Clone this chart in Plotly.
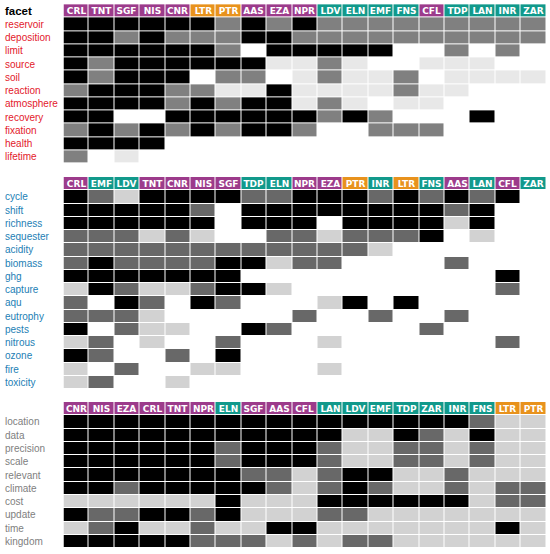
import plotly.graph_objects as go

# column code -> header colour group (0 purple, 1 teal, 2 orange)
col_group = {'CRL': 0, 'TNT': 0, 'SGF': 0, 'NIS': 0, 'CNR': 0, 'AAS': 0, 'EZA': 0, 'NPR': 0, 'CFL': 0,
             'LDV': 1, 'ELN': 1, 'EMF': 1, 'FNS': 1, 'TDP': 1, 'LAN': 1, 'INR': 1, 'ZAR': 1,
             'LTR': 2, 'PTR': 2}

# panel 1
p1_cols = ['CRL', 'TNT', 'SGF', 'NIS', 'CNR', 'LTR', 'PTR', 'AAS', 'EZA', 'NPR',
           'LDV', 'ELN', 'EMF', 'FNS', 'CFL', 'TDP', 'LAN', 'INR', 'ZAR']
p1_rows = ['reservoir', 'deposition', 'limit', 'source', 'soil', 'reaction',
           'atmosphere', 'recovery', 'fixation', 'health', 'lifetime']
p1_z = [
    [3, 3, 3, 3, 3, 3, 2, 3, 2, 3, 2, 2, 2, 2, 2, 2, 2, 2, 2],
    [3, 3, 2, 3, 2, 2, 2, 3, 3, 2, 2, 2, 2, 2, 2, 2, 2, 2, 2],
    [3, 3, 3, 3, 3, 3, 2, 0, 3, 3, 3, 3, 3, 0, 0, 2, 0, 2, 0],
    [3, 2, 3, 3, 3, 3, 3, 3, 1, 1, 2, 1, 0, 0, 1, 1, 1, 0, 0],
    [3, 2, 3, 3, 3, 0, 2, 2, 0, 1, 2, 1, 1, 2, 0, 1, 1, 1, 1],
    [2, 3, 3, 3, 2, 2, 1, 1, 3, 1, 1, 1, 1, 2, 1, 1, 0, 0, 0],
    [3, 3, 3, 3, 2, 3, 2, 3, 3, 1, 2, 1, 0, 1, 1, 0, 0, 0, 0],
    [3, 3, 0, 0, 3, 3, 3, 3, 3, 3, 2, 3, 2, 0, 0, 0, 3, 0, 0],
    [2, 3, 2, 3, 2, 3, 2, 3, 3, 2, 0, 0, 2, 2, 2, 0, 0, 0, 0],
    [3, 3, 3, 3, 0, 0, 0, 0, 0, 0, 0, 0, 0, 0, 0, 0, 0, 0, 0],
    [2, 0, 1, 0, 0, 0, 0, 0, 0, 0, 0, 0, 0, 0, 0, 0, 0, 0, 0],
]

# panel 2
p2_cols = ['CRL', 'EMF', 'LDV', 'TNT', 'CNR', 'NIS', 'SGF', 'TDP', 'ELN', 'NPR',
           'EZA', 'PTR', 'INR', 'LTR', 'FNS', 'AAS', 'LAN', 'CFL', 'ZAR']
p2_rows = ['cycle', 'shift', 'richness', 'sequester', 'acidity', 'biomass', 'ghg', 'capture',
           'aqu', 'eutrophy', 'pests', 'nitrous', 'ozone', 'fire', 'toxicity']
p2_z = [
    [3, 2, 1, 3, 3, 3, 3, 2, 2, 3, 3, 3, 2, 3, 2, 3, 2, 3, 0],
    [3, 3, 3, 3, 3, 2, 0, 3, 3, 3, 3, 3, 3, 3, 3, 2, 3, 0, 0],
    [3, 3, 3, 3, 3, 3, 0, 3, 3, 3, 0, 3, 3, 3, 3, 1, 3, 0, 0],
    [2, 2, 2, 1, 2, 1, 0, 0, 2, 2, 1, 2, 2, 2, 3, 0, 1, 0, 0],
    [2, 2, 2, 2, 2, 2, 2, 2, 2, 2, 2, 2, 1, 0, 0, 0, 0, 0, 0],
    [2, 3, 2, 2, 2, 2, 3, 3, 1, 2, 2, 0, 0, 0, 0, 2, 0, 0, 0],
    [3, 3, 3, 3, 3, 3, 3, 0, 0, 0, 0, 0, 0, 0, 0, 0, 0, 3, 0],
    [1, 3, 2, 1, 1, 2, 3, 3, 1, 0, 0, 0, 0, 0, 0, 0, 0, 2, 0],
    [2, 0, 3, 2, 0, 3, 2, 0, 0, 0, 1, 3, 0, 3, 0, 0, 0, 0, 0],
    [2, 2, 2, 1, 0, 0, 0, 0, 0, 2, 0, 0, 2, 0, 0, 2, 0, 0, 0],
    [3, 0, 2, 1, 1, 0, 0, 3, 2, 0, 0, 0, 0, 0, 2, 0, 0, 0, 0],
    [1, 2, 0, 1, 0, 0, 2, 0, 0, 0, 1, 0, 0, 0, 0, 0, 0, 2, 0],
    [3, 2, 0, 0, 2, 0, 3, 0, 0, 0, 0, 0, 0, 0, 0, 0, 0, 0, 0],
    [1, 0, 2, 0, 0, 1, 1, 0, 0, 0, 1, 0, 0, 0, 0, 0, 0, 0, 0],
    [1, 2, 0, 0, 1, 0, 0, 0, 0, 0, 0, 0, 0, 0, 0, 0, 0, 0, 0],
]

# panel 3
p3_cols = ['CNR', 'NIS', 'EZA', 'CRL', 'TNT', 'NPR', 'ELN', 'SGF', 'AAS', 'CFL',
           'LAN', 'LDV', 'EMF', 'TDP', 'ZAR', 'INR', 'FNS', 'LTR', 'PTR']
p3_rows = ['location', 'data', 'precision', 'scale', 'relevant', 'climate',
           'cost', 'update', 'time', 'kingdom']
p3_z = [
    [3, 3, 3, 3, 3, 3, 3, 3, 3, 3, 3, 3, 3, 3, 3, 3, 2, 1, 1],
    [3, 3, 3, 3, 3, 3, 3, 3, 3, 3, 3, 1, 1, 3, 2, 1, 3, 1, 1],
    [3, 3, 3, 3, 3, 3, 2, 3, 3, 3, 2, 1, 1, 2, 2, 1, 2, 1, 1],
    [3, 3, 3, 3, 3, 3, 2, 3, 3, 3, 2, 1, 1, 2, 2, 1, 2, 1, 1],
    [3, 3, 3, 3, 3, 3, 3, 2, 2, 1, 2, 3, 3, 1, 1, 2, 1, 1, 1],
    [3, 3, 2, 3, 3, 3, 3, 3, 2, 1, 2, 3, 2, 1, 1, 2, 1, 2, 2],
    [1, 1, 1, 1, 1, 1, 3, 1, 1, 1, 3, 3, 3, 3, 3, 3, 1, 2, 2],
    [3, 2, 2, 3, 3, 2, 3, 1, 1, 1, 2, 2, 1, 1, 1, 1, 1, 1, 1],
    [1, 2, 3, 1, 1, 2, 1, 1, 3, 3, 1, 1, 1, 1, 1, 1, 1, 3, 1],
    [3, 3, 3, 3, 3, 2, 2, 2, 1, 2, 1, 2, 2, 1, 1, 1, 1, 1, 1],
]

W, H = 550, 554
header_colors = ['#9c3b8b', '#11998b', '#e8921c']


def steps(colors):
    n = len(colors)
    cs = []
    for i, c in enumerate(colors):
        cs.append([i / n, c])
        cs.append([(i + 1) / n, c])
    return cs


panels = [
    # cols, rows, z, label colour, shades, header label, y range in px (top, bottom)
    (p1_cols, p1_rows, p1_z, '#e3202b', ['#ffffff', '#e8e8e8', '#808080', '#000000'], 'facet', (3, 164.5)),
    (p2_cols, p2_rows, p2_z, '#2380b5', ['#ffffff', '#d2d2d2', '#686868', '#000000'], '', (177, 390)),
    (p3_cols, p3_rows, p3_z, '#808080', ['#ffffff', '#d2d2d2', '#686868', '#000000'], '', (402, 549)),
]

fig = go.Figure()
annotations = []
layout = {}
x_dom = [63.5 / W, 546 / W]

for i, (cols, rows, z, lab_col, shades, hdr, (top, bot)) in enumerate(panels, start=1):
    xa = 'x' if i == 1 else 'x%d' % i
    ya = 'y' if i == 1 else 'y%d' % i
    fig.add_trace(go.Heatmap(
        x=cols, y=rows, z=z, xaxis=xa, yaxis=ya,
        zmin=-0.5, zmax=3.5, colorscale=steps(shades), showscale=False,
        xgap=1, ygap=1, hoverinfo='skip'))
    fig.add_trace(go.Heatmap(
        x=cols, y=['_hdr'], z=[[col_group[c] for c in cols]], text=[cols],
        texttemplate='<b>%{text}</b>',
        textfont=dict(family='DejaVu Sans', size=9, color='white'),
        xaxis=xa, yaxis=ya, zmin=-0.5, zmax=2.5, colorscale=steps(header_colors),
        showscale=False, xgap=1, ygap=1, hoverinfo='skip'))
    layout['xaxis' if i == 1 else 'xaxis%d' % i] = dict(
        domain=x_dom, anchor=ya, visible=False, type='category', categoryarray=cols, fixedrange=True)
    layout['yaxis' if i == 1 else 'yaxis%d' % i] = dict(
        domain=[1 - bot / H, 1 - top / H], anchor=xa, visible=False, type='category',
        categoryarray=['_hdr'] + rows, autorange='reversed', fixedrange=True)
    for r in rows:
        annotations.append(dict(
            x=3 / W, xref='paper', xanchor='left', y=r, yref=ya, yanchor='middle',
            text=r, showarrow=False, font=dict(family='Liberation Sans, Arial', size=10, color=lab_col)))
    if hdr:
        annotations.append(dict(
            x=3 / W, xref='paper', xanchor='left', y='_hdr', yref=ya, yanchor='middle',
            text='<b>%s</b>' % hdr, showarrow=False,
            font=dict(family='Liberation Sans, Arial', size=11.5, color='black')))

fig.update_layout(
    width=W, height=H,
    margin=dict(l=0, r=0, t=0, b=0),
    paper_bgcolor='white', plot_bgcolor='white',
    annotations=annotations,
    **layout
)

# page body has a default margin; drop it so the figure starts at the corner
fig.write_html("out.html", config={'displayModeBar': False},
               post_script="document.body.style.margin='0';")
